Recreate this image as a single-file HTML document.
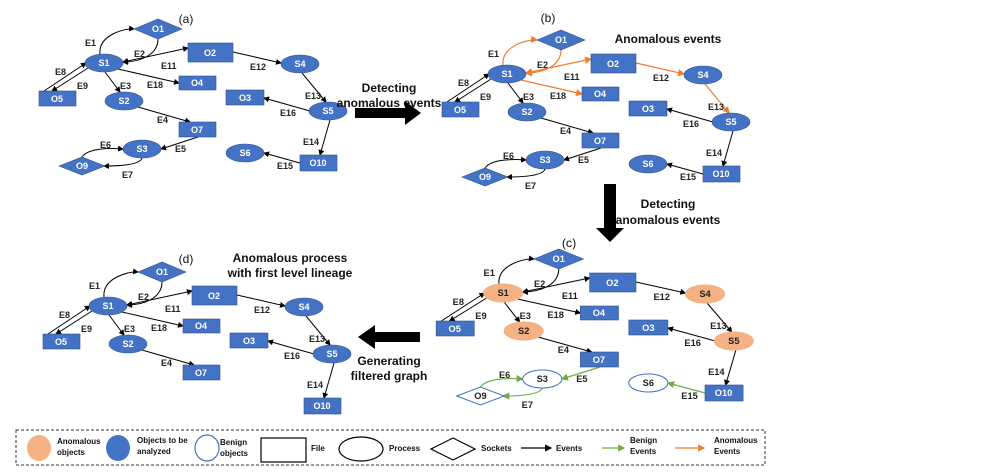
<!DOCTYPE html>
<html><head><meta charset="utf-8"><style>
body{margin:0;background:#fff;}
svg{display:block;font-family:"Liberation Sans",Arial,sans-serif;}
.l{font-size:9px;font-weight:bold;fill:#222;}
.n{font-size:9px;font-weight:bold;fill:#fff;text-anchor:middle;}
.k{font-size:9px;font-weight:bold;fill:#222;text-anchor:middle;}
.B{fill:#4472C4;stroke:#2F528F;stroke-width:0.6}
.A{fill:#F4B183;stroke:#F4B183}
.W{fill:#fff;stroke:#4472C4;stroke-width:1}
.e{fill:none;stroke:#000;stroke-width:1;marker-end:url(#mk)}
.o{fill:none;stroke:#ED7D31;stroke-width:1.2;marker-end:url(#mo)}
.g{fill:none;stroke:#70AD47;stroke-width:1.2;marker-end:url(#mg)}
.t{font-size:12px;font-weight:bold;fill:#111;text-anchor:middle;}
.p{font-size:12px;fill:#111;text-anchor:middle;}
.lg{font-size:8px;font-weight:bold;fill:#111;}
</style></head><body>
<svg width="997" height="473" viewBox="0 0 997 473">
<defs>
<marker id="mk" markerWidth="6" markerHeight="6" refX="5" refY="3" orient="auto"><path d="M0,0 L6,3 L0,6z" fill="#000"/></marker>
<marker id="mks" markerWidth="6" markerHeight="6" refX="1" refY="3" orient="auto"><path d="M6,0 L0,3 L6,6z" fill="#000"/></marker>
<marker id="mo" markerWidth="6" markerHeight="6" refX="5" refY="3" orient="auto"><path d="M0,0 L6,3 L0,6z" fill="#ED7D31"/></marker>
<marker id="mos" markerWidth="6" markerHeight="6" refX="1" refY="3" orient="auto"><path d="M6,0 L0,3 L6,6z" fill="#ED7D31"/></marker>
<marker id="mg" markerWidth="6" markerHeight="6" refX="5" refY="3" orient="auto"><path d="M0,0 L6,3 L0,6z" fill="#70AD47"/></marker>
</defs>

<!-- (a) -->
<g>
<path class="e" d="M100,54 C98,35 125,28 134,29"/>
<path class="e" d="M158,39 C158,55 140,62 123,62"/>
<path class="e" style="marker-start:url(#mks)" d="M123,62 L188,48"/>
<path class="e" d="M44,91 L86,63"/>
<path class="e" d="M88,68 L52,91"/>
<path class="e" d="M105,72 L120,92"/>
<path class="e" d="M118,69 L179,83"/>
<path class="e" d="M233,52 L281,63"/>
<path class="e" d="M302,73 L326,102"/>
<path class="e" d="M310,111 L264,98"/>
<path class="e" d="M330,120 L320,155"/>
<path class="e" d="M300,163 L264,153"/>
<path class="e" d="M138,107 L190,122"/>
<path class="e" d="M198,137 L161,149"/>
<path class="e" d="M82,157 C88,148 110,148 123,149"/>
<path class="e" d="M142,158 C140,165 120,166 104,166"/>
<polygon class="B" points="134,29 158,19 182,29 158,39"/><text class="n" x="158" y="32">O1</text>
<ellipse class="B" cx="104" cy="63" rx="19" ry="9"/><text class="n" x="104" y="66">S1</text>
<rect class="B" x="188" y="43" width="45" height="19"/><text class="n" x="210" y="56">O2</text>
<ellipse class="B" cx="300" cy="64" rx="19" ry="9"/><text class="n" x="300" y="67">S4</text>
<rect class="B" x="179" y="76" width="37" height="14"/><text class="n" x="197" y="86">O4</text>
<rect class="B" x="39" y="91" width="37" height="15"/><text class="n" x="57" y="102">O5</text>
<ellipse class="B" cx="124" cy="101" rx="19" ry="9"/><text class="n" x="124" y="104">S2</text>
<rect class="B" x="226" y="90" width="38" height="15"/><text class="n" x="245" y="101">O3</text>
<ellipse class="B" cx="328" cy="111" rx="19" ry="9"/><text class="n" x="328" y="114">S5</text>
<rect class="B" x="179" y="122" width="37" height="15"/><text class="n" x="197" y="133">O7</text>
<ellipse class="B" cx="142" cy="149" rx="19" ry="9"/><text class="n" x="142" y="152">S3</text>
<polygon class="B" points="59,166 82,157 105,166 82,175"/><text class="n" x="82" y="169">O9</text>
<ellipse class="B" cx="245" cy="153" rx="19" ry="9"/><text class="n" x="245" y="156">S6</text>
<rect class="B" x="300" y="155" width="37" height="16"/><text class="n" x="318" y="166">O10</text>
<text class="l" x="85" y="46">E1</text><text class="l" x="134" y="57">E2</text><text class="l" x="161" y="69">E11</text>
<text class="l" x="55" y="75">E8</text><text class="l" x="77" y="89">E9</text><text class="l" x="120" y="89">E3</text>
<text class="l" x="147" y="88">E18</text><text class="l" x="250" y="70">E12</text><text class="l" x="305" y="99">E13</text>
<text class="l" x="280" y="116">E16</text><text class="l" x="303" y="145">E14</text><text class="l" x="277" y="169">E15</text>
<text class="l" x="157" y="123">E4</text><text class="l" x="175" y="152">E5</text><text class="l" x="100" y="148">E6</text><text class="l" x="122" y="178">E7</text>
<text class="p" x="186" y="23">(a)</text>
</g>

<!-- (b) -->
<g transform="translate(403,11)">
<path class="o" d="M100,54 C98,35 125,28 134,29"/>
<path class="o" d="M158,39 C158,55 140,62 123,62"/>
<path class="o" style="marker-start:url(#mos)" d="M123,62 L188,48"/>
<path class="e" d="M44,91 L86,63"/>
<path class="e" d="M88,68 L52,91"/>
<path class="e" d="M105,72 L120,92"/>
<path class="o" d="M118,69 L179,83"/>
<path class="o" d="M233,52 L281,63"/>
<path class="o" d="M302,73 L326,102"/>
<path class="e" d="M310,111 L264,98"/>
<path class="e" d="M330,120 L320,155"/>
<path class="e" d="M300,163 L264,153"/>
<path class="e" d="M138,107 L190,122"/>
<path class="e" d="M198,137 L161,149"/>
<path class="e" d="M82,157 C88,148 110,148 123,149"/>
<path class="e" d="M142,158 C140,165 120,166 104,166"/>
<polygon class="B" points="134,29 158,19 182,29 158,39"/><text class="n" x="158" y="32">O1</text>
<ellipse class="B" cx="104" cy="63" rx="19" ry="9"/><text class="n" x="104" y="66">S1</text>
<rect class="B" x="188" y="43" width="45" height="19"/><text class="n" x="210" y="56">O2</text>
<ellipse class="B" cx="300" cy="64" rx="19" ry="9"/><text class="n" x="300" y="67">S4</text>
<rect class="B" x="179" y="76" width="37" height="14"/><text class="n" x="197" y="86">O4</text>
<rect class="B" x="39" y="91" width="37" height="15"/><text class="n" x="57" y="102">O5</text>
<ellipse class="B" cx="124" cy="101" rx="19" ry="9"/><text class="n" x="124" y="104">S2</text>
<rect class="B" x="226" y="90" width="38" height="15"/><text class="n" x="245" y="101">O3</text>
<ellipse class="B" cx="328" cy="111" rx="19" ry="9"/><text class="n" x="328" y="114">S5</text>
<rect class="B" x="179" y="122" width="37" height="15"/><text class="n" x="197" y="133">O7</text>
<ellipse class="B" cx="142" cy="149" rx="19" ry="9"/><text class="n" x="142" y="152">S3</text>
<polygon class="B" points="59,166 82,157 105,166 82,175"/><text class="n" x="82" y="169">O9</text>
<ellipse class="B" cx="245" cy="153" rx="19" ry="9"/><text class="n" x="245" y="156">S6</text>
<rect class="B" x="300" y="155" width="37" height="16"/><text class="n" x="318" y="166">O10</text>
<text class="l" x="85" y="46">E1</text><text class="l" x="134" y="57">E2</text><text class="l" x="161" y="69">E11</text>
<text class="l" x="55" y="75">E8</text><text class="l" x="77" y="89">E9</text><text class="l" x="120" y="89">E3</text>
<text class="l" x="147" y="88">E18</text><text class="l" x="250" y="70">E12</text><text class="l" x="305" y="99">E13</text>
<text class="l" x="280" y="116">E16</text><text class="l" x="303" y="145">E14</text><text class="l" x="277" y="169">E15</text>
<text class="l" x="157" y="123">E4</text><text class="l" x="175" y="152">E5</text><text class="l" x="100" y="148">E6</text><text class="l" x="122" y="178">E7</text>
<text class="p" x="145" y="11">(b)</text>
</g>

<!-- (c) -->
<g transform="translate(396,230) scale(1.03,1)">
<path class="e" d="M100,54 C98,35 125,28 134,29"/>
<path class="e" d="M158,39 C158,55 140,62 123,62"/>
<path class="e" style="marker-start:url(#mks)" d="M123,62 L188,48"/>
<path class="e" d="M44,91 L86,63"/>
<path class="e" d="M88,68 L52,91"/>
<path class="e" d="M105,72 L120,92"/>
<path class="e" d="M118,69 L179,83"/>
<path class="e" d="M233,52 L281,63"/>
<path class="e" d="M302,73 L326,102"/>
<path class="e" d="M310,111 L264,98"/>
<path class="e" d="M330,120 L320,155"/>
<path class="g" d="M300,163 L264,153"/>
<path class="e" d="M138,107 L190,122"/>
<path class="g" d="M198,137 L161,149"/>
<path class="g" d="M82,157 C88,148 110,148 123,149"/>
<path class="g" d="M142,158 C140,165 120,166 104,166"/>
<polygon class="B" points="134,29 158,19 182,29 158,39"/><text class="n" x="158" y="32">O1</text>
<ellipse class="A" cx="104" cy="63" rx="19" ry="9"/><text class="k" x="104" y="66">S1</text>
<rect class="B" x="188" y="43" width="45" height="19"/><text class="n" x="210" y="56">O2</text>
<ellipse class="A" cx="300" cy="64" rx="19" ry="9"/><text class="k" x="300" y="67">S4</text>
<rect class="B" x="179" y="76" width="37" height="14"/><text class="n" x="197" y="86">O4</text>
<rect class="B" x="39" y="91" width="37" height="15"/><text class="n" x="57" y="102">O5</text>
<ellipse class="A" cx="124" cy="101" rx="19" ry="9"/><text class="k" x="124" y="104">S2</text>
<rect class="B" x="226" y="90" width="38" height="15"/><text class="n" x="245" y="101">O3</text>
<ellipse class="A" cx="328" cy="111" rx="19" ry="9"/><text class="k" x="328" y="114">S5</text>
<rect class="B" x="179" y="122" width="37" height="15"/><text class="n" x="197" y="133">O7</text>
<ellipse class="W" cx="142" cy="149" rx="19" ry="9"/><text class="k" x="142" y="152">S3</text>
<polygon class="W" points="59,166 82,157 105,166 82,175"/><text class="k" x="82" y="169">O9</text>
<ellipse class="W" cx="245" cy="153" rx="19" ry="9"/><text class="k" x="245" y="156">S6</text>
<rect class="B" x="300" y="155" width="37" height="16"/><text class="n" x="318" y="166">O10</text>
<text class="l" x="85" y="46">E1</text><text class="l" x="134" y="57">E2</text><text class="l" x="161" y="69">E11</text>
<text class="l" x="55" y="75">E8</text><text class="l" x="77" y="89">E9</text><text class="l" x="120" y="89">E3</text>
<text class="l" x="147" y="88">E18</text><text class="l" x="250" y="70">E12</text><text class="l" x="305" y="99">E13</text>
<text class="l" x="280" y="116">E16</text><text class="l" x="303" y="145">E14</text><text class="l" x="277" y="169">E15</text>
<text class="l" x="157" y="123">E4</text><text class="l" x="175" y="152">E5</text><text class="l" x="100" y="148">E6</text><text class="l" x="122" y="178">E7</text>
<text class="p" x="168" y="17">(c)</text>
</g>

<!-- (d) -->
<g transform="translate(4,243)">
<path class="e" d="M100,54 C98,35 125,28 134,29"/>
<path class="e" d="M158,39 C158,55 140,62 123,62"/>
<path class="e" style="marker-start:url(#mks)" d="M123,62 L188,48"/>
<path class="e" d="M44,91 L86,63"/>
<path class="e" d="M88,68 L52,91"/>
<path class="e" d="M105,72 L120,92"/>
<path class="e" d="M118,69 L179,83"/>
<path class="e" d="M233,52 L281,63"/>
<path class="e" d="M302,73 L326,102"/>
<path class="e" d="M310,111 L264,98"/>
<path class="e" d="M330,120 L320,155"/>
<path class="e" d="M138,107 L190,122"/>
<polygon class="B" points="134,29 158,19 182,29 158,39"/><text class="n" x="158" y="32">O1</text>
<ellipse class="B" cx="104" cy="63" rx="19" ry="9"/><text class="n" x="104" y="66">S1</text>
<rect class="B" x="188" y="43" width="45" height="19"/><text class="n" x="210" y="56">O2</text>
<ellipse class="B" cx="300" cy="64" rx="19" ry="9"/><text class="n" x="300" y="67">S4</text>
<rect class="B" x="179" y="76" width="37" height="14"/><text class="n" x="197" y="86">O4</text>
<rect class="B" x="39" y="91" width="37" height="15"/><text class="n" x="57" y="102">O5</text>
<ellipse class="B" cx="124" cy="101" rx="19" ry="9"/><text class="n" x="124" y="104">S2</text>
<rect class="B" x="226" y="90" width="38" height="15"/><text class="n" x="245" y="101">O3</text>
<ellipse class="B" cx="328" cy="111" rx="19" ry="9"/><text class="n" x="328" y="114">S5</text>
<rect class="B" x="179" y="122" width="37" height="15"/><text class="n" x="197" y="133">O7</text>
<rect class="B" x="300" y="155" width="37" height="16"/><text class="n" x="318" y="166">O10</text>
<text class="l" x="85" y="46">E1</text><text class="l" x="134" y="57">E2</text><text class="l" x="161" y="69">E11</text>
<text class="l" x="55" y="75">E8</text><text class="l" x="77" y="89">E9</text><text class="l" x="120" y="89">E3</text>
<text class="l" x="147" y="88">E18</text><text class="l" x="250" y="70">E12</text><text class="l" x="305" y="99">E13</text>
<text class="l" x="280" y="116">E16</text><text class="l" x="303" y="145">E14</text>
<text class="l" x="157" y="123">E4</text>
<text class="p" x="182" y="20">(d)</text>
</g>

<!-- titles and big arrows -->
<text class="t" x="668" y="43">Anomalous events</text>
<text class="t" x="290" y="262">Anomalous process</text>
<text class="t" x="290" y="277">with first level lineage</text>
<text class="t" x="389" y="92">Detecting</text>
<text class="t" x="389" y="107">anomalous events</text>
<polygon points="355,108 405,108 405,101 421,113 405,125 405,118 355,118" fill="#000"/>
<polygon points="604,184 616,184 616,228 624,228 610,242 596,228 604,228" fill="#000"/>
<text class="t" x="668" y="208">Detecting</text>
<text class="t" x="668" y="224">anomalous events</text>
<polygon points="420,332 375,332 375,325 358,337 375,349 375,342 420,342" fill="#000"/>
<text class="t" x="389" y="365">Generating</text>
<text class="t" x="389" y="380">filtered graph</text>

<!-- legend -->
<rect x="16" y="430" width="749" height="35" fill="none" stroke="#333" stroke-dasharray="3,2"/>
<ellipse cx="39" cy="448" rx="12" ry="13" fill="#F4B183"/>
<text class="lg" x="57" y="444">Anomalous</text><text class="lg" x="57" y="455">objects</text>
<ellipse cx="118" cy="448" rx="12" ry="13" fill="#4472C4"/>
<text class="lg" x="137" y="443">Objects to be</text><text class="lg" x="137" y="454">analyzed</text>
<ellipse cx="207" cy="448" rx="12" ry="13" fill="#fff" stroke="#4472C4" stroke-width="1.2"/>
<text class="lg" x="220" y="445">Benign</text><text class="lg" x="220" y="456">objects</text>
<rect x="261" y="438" width="45" height="24" fill="#fff" stroke="#000" stroke-width="1.2"/>
<text class="lg" x="311" y="451">File</text>
<ellipse cx="361" cy="449" rx="22" ry="12" fill="#fff" stroke="#000" stroke-width="1.2"/>
<text class="lg" x="389" y="451">Process</text>
<polygon points="431,449 453,438 475,449 453,460" fill="#fff" stroke="#000" stroke-width="1.2"/>
<text class="lg" x="481" y="451">Sockets</text>
<line x1="521" y1="448" x2="551" y2="448" stroke="#000" stroke-width="1.2" marker-end="url(#mk)"/>
<text class="lg" x="556" y="451">Events</text>
<line x1="602" y1="448" x2="624" y2="448" stroke="#70AD47" stroke-width="1.2" marker-end="url(#mg)"/>
<text class="lg" x="630" y="443">Benign</text><text class="lg" x="630" y="454">Events</text>
<line x1="675" y1="448" x2="704" y2="448" stroke="#ED7D31" stroke-width="1.2" marker-end="url(#mo)"/>
<text class="lg" x="714" y="443">Anomalous</text><text class="lg" x="714" y="454">Events</text>
</svg>
</body></html>
